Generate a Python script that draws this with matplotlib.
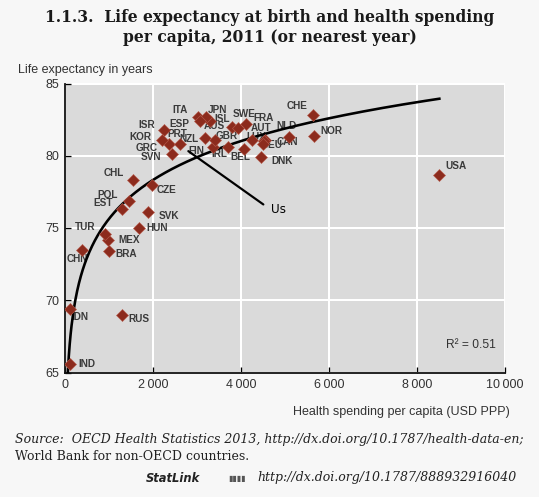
import matplotlib.pyplot as plt
import numpy as np

# health spending per capita (USD PPP) and life expectancy
countries = ["AUS", "AUT", "BEL", "CAN", "CHL", "CZE", "DNK", "EST", "FIN", "FRA",
             "DEU", "GRC", "HUN", "ISL", "IRL", "ISR", "ITA", "JPN", "KOR", "LUX",
             "MEX", "NLD", "NZL", "NOR", "POL", "PRT", "SVK", "SVN", "ESP", "SWE",
             "CHE", "TUR", "GBR", "USA", "BRA", "CHN", "IND", "IDN", "RUS"]
spending = [3800, 4546, 4061, 4522, 1553, 1966, 4448, 1303, 3374, 4118,
            4495, 2361, 1689, 3305, 3700, 2239, 3012, 3213, 2198, 4246,
            977, 5099, 3182, 5669, 1452, 2619, 1894, 2421, 3072, 3925,
            5643, 906, 3405, 8508, 1008, 394, 120, 110, 1300]
life_exp = [82.0, 81.1, 80.5, 81.0, 78.3, 78.0, 79.9, 76.3, 80.6, 82.2,
            80.8, 80.8, 75.0, 82.4, 80.6, 81.8, 82.7, 82.7, 81.1, 81.1,
            74.2, 81.3, 81.2, 81.4, 76.9, 80.8, 76.1, 80.1, 82.4, 81.9,
            82.8, 74.6, 81.1, 78.7, 73.4, 73.5, 65.6, 69.4, 69.0]

x_ticks = [0, 2000, 4000, 6000, 8000, 10000]
x_tick_labels = ["0", "2\u2009000", "4\u2009000", "6\u2009000", "8\u2009000", "10\u2009000"]
y_ticks = [65, 70, 75, 80, 85]

# label offsets in pixels (dx right, dy up) from each marker
label_offsets = {
    "ITA": (-17, 7), "JPN": (11, 7), "ISL": (12, 2), "SWE": (6, 14), "FRA": (17, 6),
    "CHE": (-16, 9), "ISR": (-17, 5), "ESP": (-21, -3), "AUS": (-18, 1), "AUT": (-4, 12),
    "NLD": (-3, 11), "NOR": (17, 5), "KOR": (-21, 3), "PRT": (-3, 10), "NZL": (-16, -1),
    "GBR": (12, 4), "LUX": (4, 3), "CAN": (23, -1), "GRC": (-22, -4), "FIN": (-17, -4),
    "IRL": (-8, -7), "BEL": (-3, -8), "DEU": (9, -1), "DNK": (21, -4), "SVN": (-21, -3),
    "CHL": (-20, 7), "CZE": (15, -5), "POL": (-21, 6), "EST": (-19, 6), "SVK": (21, -4),
    "TUR": (-20, 7), "HUN": (18, 0), "MEX": (21, 0), "CHN": (-5, -9), "BRA": (17, -3),
    "IDN": (10, -8), "RUS": (17, -4), "IND": (17, 0), "USA": (17, 9),
}

plt.rcParams["font.family"] = ["Liberation Sans", "DejaVu Sans"]

fig = plt.figure(figsize=(539 / 72, 497 / 72), dpi=72, facecolor="#f7f7f7")
ax = fig.add_axes([65 / 539, 1 - 372.5 / 497, 440 / 539, 289 / 497])
ax.set_facecolor("#dadada")

x = np.array(spending, dtype=float)
y = np.array(life_exp, dtype=float)

# logarithmic trend line fitted on the data, drawn down to the bottom axis
b, a = np.polyfit(np.log(x), y, 1)
x_start = np.exp((65 - a) / b)
xs = np.linspace(x_start, x.max(), 400)
ax.plot(xs, a + b * np.log(xs), color="black", lw=2.6, zorder=3)

ax.plot(x, y, "D", ms=8.5, color="#8c2b1d", mec="#b55a4a", mew=0.6, zorder=4,
        linestyle="none")

for c, xi, yi in zip(countries, x, y):
    dx, dy = label_offsets[c]
    ax.annotate(c, (xi, yi), xytext=(dx, dy), textcoords="offset points",
                ha="center", va="center", fontsize=10, fontweight="bold",
                color="#3a3a3a", zorder=2)

ax.set_xlim(0, 10000)
ax.set_ylim(65, 85)
ax.set_xticks(x_ticks)
ax.set_xticklabels(x_tick_labels)
ax.set_yticks(y_ticks)
ax.grid(True, color="white", lw=2)
ax.set_axisbelow(True)
for s in ["top", "right"]:
    ax.spines[s].set_visible(False)
for s in ["left", "bottom"]:
    ax.spines[s].set_linewidth(1.8)
    ax.spines[s].set_color("#111111")
ax.tick_params(direction="in", length=6, width=1.3, labelsize=12.5,
               labelcolor="#333333", pad=6)

fig.text(18 / 539, 1 - 70 / 497, "Life expectancy in years", ha="left",
         va="center", fontsize=12.5, color="#333333")
ax.text(0.98, 0.095, "R\u00b2 = 0.51", transform=ax.transAxes, ha="right",
        va="center", fontsize=12, color="#333333")

# "Us" annotation
ax.annotate("", xy=(2766, 80.4), xytext=(4545, 76.55),
            arrowprops=dict(arrowstyle="-", color="black", lw=2.2), zorder=5)
ax.text(4680, 76.25, "Us", fontsize=12, va="center", ha="left",
        family="DejaVu Sans", color="black")

fig.text(0.5, 1 - 18 / 497, "1.1.3.  Life expectancy at birth and health spending",
         ha="center", va="center", fontsize=15.5, fontweight="bold",
         family="DejaVu Serif", color="#1a1a1a")
fig.text(0.5, 1 - 37 / 497, "per capita, 2011 (or nearest year)",
         ha="center", va="center", fontsize=15.5, fontweight="bold",
         family="DejaVu Serif", color="#1a1a1a")
fig.text(510 / 539, 1 - 412 / 497, "Health spending per capita (USD PPP)",
         ha="right", va="center", fontsize=12.5, color="#333333")
fig.text(15 / 539, 1 - 439 / 497,
         "Source:  OECD Health Statistics 2013, http://dx.doi.org/10.1787/health-data-en;",
         ha="left", va="center", fontsize=12.5, style="italic",
         family="DejaVu Serif", color="#222222")
fig.text(15 / 539, 1 - 457 / 497, "World Bank for non-OECD countries.",
         ha="left", va="center", fontsize=12.5, family="DejaVu Serif",
         color="#222222")
fig.text(200 / 539, 1 - 478 / 497, "StatLink", ha="right", va="center",
         fontsize=11.5, style="italic", fontweight="bold", family="DejaVu Sans",
         color="#222222")
fig.text(246 / 539, 1 - 478 / 497, "\u25ae\u25ae\u25ae\u25ae", ha="right", va="center",
         fontsize=8, color="#555555", family="DejaVu Sans")
fig.text(517 / 539, 1 - 478 / 497, "http://dx.doi.org/10.1787/888932916040",
         ha="right", va="center", fontsize=12.5, style="italic",
         family="DejaVu Serif", color="#222222")

fig.savefig("out.png", dpi=72, facecolor=fig.get_facecolor())
